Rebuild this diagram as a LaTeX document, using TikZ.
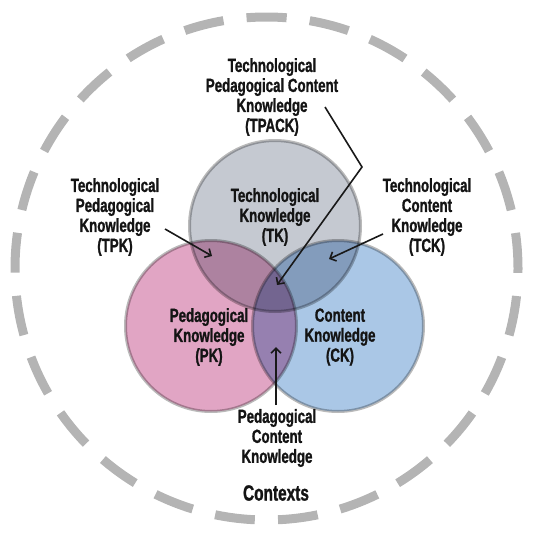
\documentclass[tikz,border=0pt]{standalone}
\usepackage{fontspec}
\usepackage{tikz}
\usetikzlibrary{arrows.meta,calc,positioning}
\newfontfamily\tpackfont[FakeStretch=0.70,FakeBold=1.2]{Liberation Sans}
\definecolor{tpackgray}{RGB}{197,201,209}
\definecolor{tpackpink}{RGB}{225,165,196}
\definecolor{tpackblue}{RGB}{170,199,230}
\definecolor{ringgray}{RGB}{180,180,180}
\definecolor{rimgray}{RGB}{186,186,186}
\tikzset{
 lbl/.style={font=\tpackfont\bfseries\fontsize{19}{20}\selectfont,align=center,
  text=black!92,inner sep=0pt},
 pointer/.style={-{Straight Barb[length=5pt,width=10pt]},line width=1.6pt,black!90},
}

\begin{document}
\begin{tikzpicture}[x=1pt,y=-1pt,line cap=butt]
\useasboundingbox (0,0) rectangle (537,538);
% contexts ring
\draw[ringgray,line width=9pt,dash pattern=on 40pt off 23.21pt,dash phase=20pt]
 (266.5,268.5) ++(0,-251.5) arc[start angle=-90,end angle=-450,radius=251.5];
% the three knowledge circles
\begin{scope}[blend group=multiply]
\foreach \cx/\cy/\col in {275/226/tpackgray,211/326/tpackpink,338/326/tpackblue}{
 \draw[fill=\col,draw=rimgray,line width=3pt] (\cx,\cy) circle (85.5);}
\end{scope}
% labels
\node[lbl] (tk) at (275,217) {Technological\\Knowledge\\(TK)};
\node[lbl] (pk) at (209,337) {Pedagogical\\Knowledge\\(PK)};
\node[lbl] (ck) at (340,337) {Content\\Knowledge\\(CK)};
\node[lbl] (tpack) at (272,97) {Technological\\Pedagogical Content\\Knowledge\\(TPACK)};
\node[lbl] (tpk) at (115,217) {Technological\\Pedagogical\\Knowledge\\(TPK)};
\node[lbl] (tck) at (427,217) {Technological\\Content\\Knowledge\\(TCK)};
\node[lbl] (pck) at (277,438) {Pedagogical\\Content\\Knowledge};
\node[lbl,font=\tpackfont\bfseries\fontsize{22}{22}\selectfont] (contexts) at (276,493) {Contexts};
% pointers
\coordinate (tpackfrom) at (325,107);
\coordinate (tpackbend) at (362,167);
\coordinate (tpackto) at (277,285);
\coordinate (tpkfrom) at (165,229);
\coordinate (tpkto) at (212,256);
\coordinate (tckfrom) at (383,234);
\coordinate (tckto) at (329,259);
\coordinate (pckfrom) at (276,405);
\coordinate (pckto) at (276,347);
\draw[pointer] (tpackfrom)--(tpackbend)--(tpackto);
\draw[pointer] (tpkfrom)--(tpkto);
\draw[pointer] (tckfrom)--(tckto);
\draw[pointer] (pckfrom)--(pckto);
\end{tikzpicture}
\end{document}
